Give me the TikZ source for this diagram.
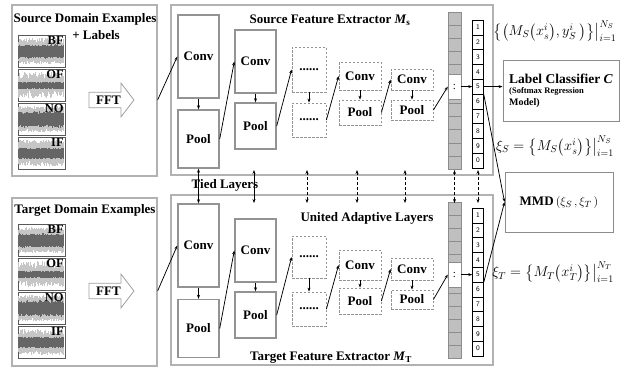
\documentclass[tikz,border=0pt]{standalone}
\usepackage{amsmath}
\usepackage{fontspec}
\setmainfont{Liberation Serif}
\usetikzlibrary{positioning, shapes, arrows.meta, calc}
\tikzset{%
  panel/.style   = {draw=gray!60, line width=1.2pt, rectangle, inner sep=0pt},
  layer/.style   = {draw=gray!85, line width=1.4pt, rectangle, inner sep=0pt,
    font=\fontsize{13}{13}\selectfont\bfseries},
  dlayer/.style  = {layer, line width=0.8pt, dash pattern=on 2.5pt off 1.5pt},
  thumb/.style   = {draw=gray!70!black, line width=0.7pt, minimum width=47pt,
    minimum height=32pt, inner sep=0pt},
  tag/.style     = {anchor=north east, inner sep=1.5pt,
    font=\fontsize{12.5}{12.5}\selectfont\bfseries},
  fft/.style     = {single arrow, draw=gray!75, line width=0.8pt, fill=white,
    minimum height=45pt, minimum width=34pt, single arrow head extend=8pt,
    single arrow tip angle=105, inner sep=2pt,
    font=\fontsize{13}{13}\selectfont\bfseries},
  gcell/.style   = {draw=gray!90, line width=0.5pt, fill=gray!50,
    minimum width=13pt, minimum height=13.08pt, inner sep=0pt},
  cell/.style    = {draw, line width=0.5pt, fill=white, minimum width=11pt,
    minimum height=14.8pt, inner sep=0pt, font=\fontsize{7}{7}\selectfont\sffamily},
  box/.style     = {draw=gray!90, line width=0.9pt, rectangle, inner sep=0pt},
  heading/.style = {inner sep=0pt, font=\fontsize{13}{13}\selectfont\bfseries},
  formula/.style = {inner sep=0pt, font=\fontsize{14}{16}\selectfont},
  sig/.style     = {-{Stealth[length=4pt, width=3pt]}, line width=0.75pt},
  tie/.style     = {{Stealth[length=4pt, width=3pt]}-{Stealth[length=4pt, width=3pt]},
    line width=0.75pt}
}
% noisy vibration trace inside a thumbnail (#2 = half height of the dark band)
\newcommand{\wave}[2]{%
  \foreach \k in {1,...,91}{%
    \pgfmathsetmacro{\xa}{0.3+\k*0.5}%
    \pgfmathsetmacro{\ua}{#2+2+(11-#2)*rnd}%
    \pgfmathsetmacro{\la}{-#2-3-(10-#2)*rnd}%
    \pgfmathsetmacro{\ub}{#2*(0.75+0.35*rnd)}%
    \pgfmathsetmacro{\lb}{-1-#2*(0.75+0.35*rnd)}%
    \draw[gray!45, line width=0.5pt] ([xshift=\xa pt, yshift=\ua pt]#1.west)
      -- ([xshift=\xa pt, yshift=\la pt]#1.west);
    \draw[gray!80!black, line width=0.5pt] ([xshift=\xa pt, yshift=\ub pt]#1.west)
      -- ([xshift=\xa pt, yshift=\lb pt]#1.west);
  }}

\begin{document}
\begin{tikzpicture}[x=1pt, y=-1pt]
\useasboundingbox (0,0) rectangle (623,367);
\pgfmathsetseed{42}
% panels
\draw
  (84.5,90.5) node [panel, minimum width=145pt, minimum height=171pt] (srcBox) {}
  (84.5,282) node [panel, minimum width=145pt, minimum height=168pt] (tgtBox) {}
  (332,90) node [panel, minimum width=322pt, minimum height=170pt] (extS) {}
  (332,280) node [panel, minimum width=322pt, minimum height=170pt] (extT) {};
% domain examples
\foreach \nm/\y/\a in {BF/51/6, OF/85/3, NO/119/7, IF/153/5} {
  \node[thumb] (s\nm) at (41.5,\y) {};
  \wave{s\nm}{\a}
  \node[tag] (ls\nm) at (s\nm.north east) {\nm};
}
\foreach \nm/\y/\a in {BF/240/6, OF/274/3, NO/308/7, IF/342/5} {
  \node[thumb] (t\nm) at (41.5,\y) {};
  \wave{t\nm}{\a}
  \node[tag] (lt\nm) at (t\nm.north east) {\nm};
}
\draw
  (108.5,100) node [fft] (fftS) {FFT}
  (108.5,291) node [fft] (fftT) {FFT};
% source layers
\draw
  (198.5,56.5) node [layer, minimum width=41pt, minimum height=83pt] (convS1) {Conv}
  (198.5,139) node [layer, minimum width=41pt, minimum height=58pt] (poolS1) {Pool}
  (255.5,61.5) node [layer, minimum width=41pt, minimum height=63pt] (convS2) {Conv}
  (255.5,126) node [layer, minimum width=41pt, minimum height=46pt] (poolS2) {Pool}
  (309,69.5) node [dlayer, minimum width=34pt, minimum height=45pt] (dotsS1) {......}
  (309,120) node [dlayer, minimum width=34pt, minimum height=34pt] (dotsS2) {......}
  (360,76) node [dlayer, minimum width=42pt, minimum height=28pt] (convS3) {Conv}
  (360,112.5) node [dlayer, minimum width=42pt, minimum height=25pt] (poolS3) {Pool}
  (412,79.5) node [dlayer, minimum width=42pt, minimum height=21pt] (convS4) {Conv}
  (412,110) node [dlayer, minimum width=42pt, minimum height=20pt] (poolS4) {Pool};
% target layers
\draw
  (198.5,245.5) node [layer, minimum width=41pt, minimum height=83pt] (convT1) {Conv}
  (198.5,328.5) node [layer, minimum width=41pt, minimum height=58pt] (poolT1) {Pool}
  (255.5,250.5) node [layer, minimum width=41pt, minimum height=63pt] (convT2) {Conv}
  (255.5,315) node [layer, minimum width=41pt, minimum height=46pt] (poolT2) {Pool}
  (309,257) node [dlayer, minimum width=34pt, minimum height=42pt] (dotsT1) {......}
  (309,309) node [dlayer, minimum width=34pt, minimum height=34pt] (dotsT2) {......}
  (360,265) node [dlayer, minimum width=42pt, minimum height=30pt] (convT3) {Conv}
  (360,301) node [dlayer, minimum width=42pt, minimum height=26pt] (poolT3) {Pool}
  (412,269) node [dlayer, minimum width=42pt, minimum height=22pt] (convT4) {Conv}
  (412,299.5) node [dlayer, minimum width=42pt, minimum height=19pt] (poolT4) {Pool};
% feature columns
\foreach \i in {1,...,12} {
  \node[gcell] (gS\i) at (454.5,{12+(\i-0.5)*13.08}) {};
  \node[gcell] (gT\i) at (454.5,{202+(\i-0.5)*13}) {};
}
\node[gcell, fill=white, minimum height=25pt, font=\fontsize{11}{11}\selectfont] (gapS) at (454.5,86.6) {:};
\node[gcell, fill=white, minimum height=25pt, font=\fontsize{11}{11}\selectfont] (gapT) at (454.5,274.6) {:};
\foreach \i [evaluate=\i as \lab using {int(mod(\i,10))}] in {1,...,10} {
  \node[cell] (nS\i) at (478,{20+(\i-0.5)*14.8}) {\lab};
  \node[cell] (nT\i) at (478,{208+(\i-0.5)*14.8}) {\lab};
}
% right hand boxes
\draw
  (561,90.5) node [box, minimum width=116pt, minimum height=61pt, align=left,
    font=\bfseries] (clf) {\fontsize{13.5}{15}\selectfont Label Classifier \textit{C}\\[-2pt]
    \fontsize{8.5}{10}\selectfont (Softmax Regression\\ Model)}
  (559,202) node [box, minimum width=108pt, minimum height=60pt,
    font=\fontsize{13}{13}\selectfont\bfseries] (mmd) {MMD\,$(\xi_S\,,\xi_T\,)$};
% formulas
\node[formula] (pairS) at (555,31)
  {$\big\{\big(M_S\big(x_s^i\big),y_S^i\ \big)\big\}\big|_{i=1}^{N_S}$};
\node[formula] (featS) at (555,146)
  {$\xi_S=\big\{M_S\big(x_s^i\big)\big\}\big|_{i=1}^{N_S}$};
\node[formula] (featT) at (553,272)
  {$\xi_T=\big\{M_T\big(x_T^i\big)\big\}\big|_{i=1}^{N_T}$};
% titles
\node[heading] (hSrc) at (85,19) {Source Domain Examples};
\node[heading] (hLab) at (96,35) {+ Labels};
\node[heading] (hTgt) at (85,210) {Target Domain Examples};
\node[heading] (hExS) at (330,20) {Source Feature Extractor \textit{M}\textsubscript{s}};
\node[heading] (hExT) at (331,358) {Target Feature Extractor \textit{M}\textsubscript{T}};
\node[heading] (hTied) at (225,185) {Tied Layers};
\node[heading] (hUni) at (367,218) {United Adaptive Layers};
% source lines
\draw[sig] (srcBox.east |- fftS) -- (convS1.west);
\draw[sig] (convS1) -- (poolS1);
\draw[sig] (poolS1.east) -- (convS2.west);
\draw[sig] (convS2) -- (poolS2);
\draw[sig] (poolS2.east) -- (dotsS1.west);
\draw[sig] (dotsS1) -- (dotsS2);
\draw[sig] (dotsS2.east) -- (convS3.west);
\draw[sig] (convS3) -- (poolS3);
\draw[sig] (poolS3.east) -- (convS4.west);
\draw[sig] (convS4) -- (poolS4);
\draw[sig] (poolS4.east) -- (gapS.west);
\draw[sig] (gapS.east) -- (nS5.west);
\draw[sig] (nS5.east) -- (nS5.east -| clf.west);
\draw[sig] (nS5.south east) -- (mmd.west);
% target lines
\draw[sig] (tgtBox.east |- fftT) -- (convT1.west);
\draw[sig] (convT1) -- (poolT1);
\draw[sig] (poolT1.east) -- (convT2.west);
\draw[sig] (convT2) -- (poolT2);
\draw[sig] (poolT2.east) -- (dotsT1.west);
\draw[sig] (dotsT1) -- (dotsT2);
\draw[sig] (dotsT2.east) -- (convT3.west);
\draw[sig] (convT3) -- (poolT3);
\draw[sig] (poolT3.east) -- (convT4.west);
\draw[sig] (convT4) -- (poolT4);
\draw[sig] (poolT4.east) -- (gapT.west);
\draw[sig] (gapT.east) -- (nT5.west);
\draw[sig] (nT5.south east) -- (mmd.west);
% tied and adaptive links
\foreach \x [count=\j] in {254,307,357,405,454.5,478} {
  \coordinate (tu\j) at (\x,170);
  \coordinate (td\j) at (\x,203);
}
\draw[tie] (poolS1.south) -- (convT1.north);
\draw[tie] (tu1) -- (td1);
\foreach \j in {2,...,6}
  \draw[tie, dash pattern=on 3pt off 2pt] (tu\j) -- (td\j);
\end{tikzpicture}
\end{document}
